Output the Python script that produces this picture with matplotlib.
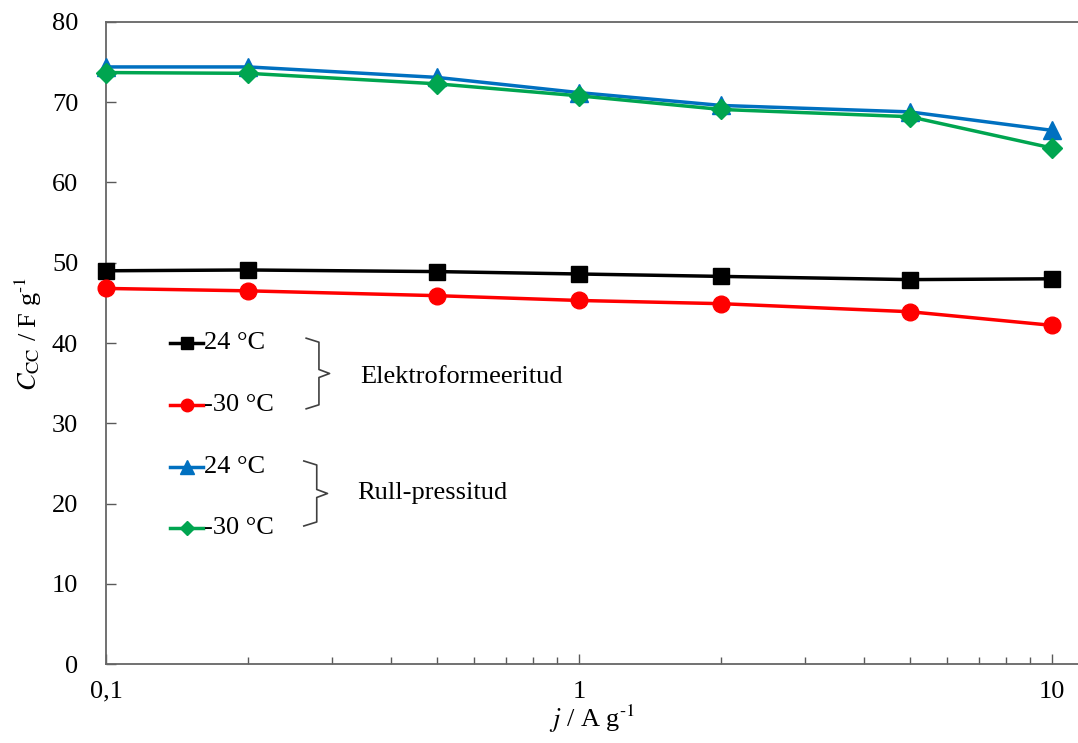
import matplotlib.pyplot as plt
from matplotlib.ticker import FixedLocator, LogLocator, NullFormatter

plt.rcParams['font.family'] = ['Liberation Serif', 'DejaVu Serif']
plt.rcParams['mathtext.fontset'] = 'stix'

# voolutihedus j / A g-1
j = [0.1, 0.2, 0.5, 1, 2, 5, 10]

# mahtuvus C_CC / F g-1
elektro_24 = [49.0, 49.1, 48.9, 48.6, 48.3, 47.9, 48.0]
elektro_m30 = [46.8, 46.5, 45.9, 45.3, 44.9, 43.9, 42.2]
rull_24 = [74.4, 74.4, 73.1, 71.2, 69.6, 68.8, 66.5]
rull_m30 = [73.7, 73.6, 72.3, 70.8, 69.1, 68.2, 64.3]

x_ticks = [0.1, 1, 10]
x_labels = ['0,1', '1', '10']
y_ticks = [0, 10, 20, 30, 40, 50, 60, 70, 80]

fig = plt.figure(figsize=(10.78, 7.43), dpi=100)
ax = fig.add_axes([0.0983, 0.1063, 0.9017, 0.8641])

series = [
    (elektro_24, '#000000', 's', 11),
    (elektro_m30, '#ff0000', 'o', 12),
    (rull_24, '#0070c0', '^', 13),
    (rull_m30, '#00a550', 'D', 10),
]
for y, c, m, ms in series:
    ax.plot(j, y, color=c, marker=m, markersize=ms, linewidth=2.5, clip_on=False, zorder=3)

ax.set_xscale('log')
ax.set_xlim(0.1, 11.35)
ax.set_ylim(0, 80)
ax.xaxis.set_major_locator(FixedLocator(x_ticks))
ax.set_xticklabels(x_labels)
ax.xaxis.set_minor_locator(LogLocator(base=10, subs=range(2, 10)))
ax.xaxis.set_minor_formatter(NullFormatter())
ax.set_yticks(y_ticks)

ax.spines['right'].set_visible(False)
for s in ['left', 'bottom', 'top']:
    ax.spines[s].set_color('#666666')
    ax.spines[s].set_linewidth(1.3)
ax.tick_params(axis='both', which='major', direction='in', length=7, width=1, color='#595959',
               labelsize=19, pad=20)
ax.tick_params(axis='x', which='major', pad=12)
ax.tick_params(axis='x', which='minor', direction='in', length=5, width=1, color='#595959')

ax.set_xlabel('$j$ / A g$^{\\text{-1}}$', fontsize=19, labelpad=0)
ax.set_ylabel('$C_{\\mathrm{CC}}$ / F g$^{\\text{-1}}$', fontsize=19)
ax.yaxis.set_label_coords(-0.064, 0.515)

# legend drawn by hand with braces
leg_rows = [
    (40.0, '#000000', 's', 8, '24 °C'),
    (32.3, '#ff0000', 'o', 9, '-30 °C'),
    (24.5, '#0070c0', '^', 10, '24 °C'),
    (16.9, '#00a550', 'D', 7, '-30 °C'),
]
lx0, lx1 = 0.1366, 0.1606
for yv, c, m, ms, lab in leg_rows:
    ax.plot([lx0, lx1], [yv, yv], color=c, linewidth=2.5, clip_on=False)
    ax.plot([(lx0 * lx1) ** 0.5], [yv], color=c, marker=m, markersize=ms, clip_on=False)
    ax.text(0.1615, yv, lab, fontsize=19, va='center', ha='left')


def brace(y_top, y_bot, xa, xb, xc):
    mid = (y_top + y_bot) / 2
    ax.plot([xa, xb, xb, xc, xb, xb, xa],
            [y_top, y_top - 0.5, mid + 0.5, mid, mid - 0.5, y_bot + 0.5, y_bot],
            color='#404040', linewidth=1.2)


brace(40.6, 31.8, 0.265, 0.282, 0.297)
brace(25.3, 17.2, 0.262, 0.279, 0.294)
ax.text(0.345, 35.8, 'Elektroformeeritud', fontsize=19, va='center', ha='left')
ax.text(0.339, 21.3, 'Rull-pressitud', fontsize=19, va='center', ha='left')

fig.savefig('out.png', dpi=100)
